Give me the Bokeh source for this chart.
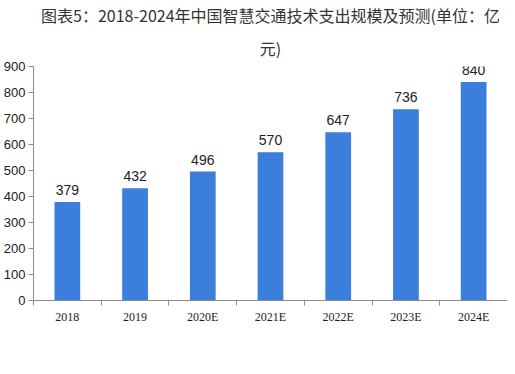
from bokeh.plotting import figure
from bokeh.models import (ColumnDataSource, Range1d, FixedTicker, LabelSet, Legend,
                          LegendItem, Title)
from bokeh.core.properties import value
from bokeh.embed import file_html
from bokeh.resources import INLINE

categories = ["2018", "2019", "2020E", "2021E", "2022E", "2023E", "2024E"]
values = [379, 432, 496, 570, 647, 736, 840]
y_ticks = [0, 100, 200, 300, 400, 500, 600, 700, 800, 900]
series_name = "中国智慧交通技术支出规模（亿元）"
title_line1 = "图表5：2018-2024年中国智慧交通技术支出规模及预测(单位：亿"
title_line2 = "元)"

xs = [i + 0.5 for i in range(len(categories))]
src = ColumnDataSource(dict(x=xs, top=values, lab=[str(v) for v in values]))

p = figure(width=507, height=358, frame_width=474, frame_height=234,
           output_backend="svg", toolbar_location=None,
           x_range=Range1d(0, len(categories)), y_range=Range1d(0, 900),
           min_border_left=33, min_border_right=0, min_border_top=0, min_border_bottom=0)
p.outline_line_color = None
p.xgrid.visible = False
p.ygrid.visible = False

r = p.vbar(x="x", top="top", width=0.38, source=src, fill_color="#3c7edb", line_color=None)

labels = LabelSet(x="x", y="top", text="lab", source=src, text_align="center",
                  text_baseline="bottom", y_offset=7, text_font=value("Liberation Sans"),
                  text_font_size="14px", text_color="#222222")
p.add_layout(labels)

# y axis
p.yaxis.ticker = FixedTicker(ticks=y_ticks)
p.yaxis.axis_line_color = "#8c8c8c"
p.yaxis.major_tick_line_color = "#8c8c8c"
p.yaxis.major_tick_out = 5
p.yaxis.major_tick_in = 0
p.yaxis.minor_tick_line_color = None
p.yaxis.major_label_standoff = 3
p.yaxis.major_label_text_font = "Liberation Sans"
p.yaxis.major_label_text_font_size = "13px"
p.yaxis.major_label_text_color = "#222222"

# x axis
p.xaxis.ticker = FixedTicker(ticks=xs, minor_ticks=list(range(len(categories) + 1)))
p.xaxis.major_label_overrides = {x: c for x, c in zip(xs, categories)}
p.xaxis.axis_line_color = "#8c8c8c"
p.xaxis.major_tick_line_color = None
p.xaxis.minor_tick_line_color = "#8c8c8c"
p.xaxis.minor_tick_out = 5
p.xaxis.minor_tick_in = 0
p.xaxis.major_label_standoff = 3
p.xaxis.major_label_text_font = "Liberation Serif"
p.xaxis.major_label_text_font_size = "12px"
p.xaxis.major_label_text_color = "#222222"

legend = Legend(items=[LegendItem(label=series_name, renderers=[r])],
                location="top_center", orientation="horizontal",
                glyph_width=8, glyph_height=8, label_text_font="Noto Sans CJK SC",
                label_text_font_size="13px", label_text_color="#222222",
                label_height=14, border_line_color=None, background_fill_alpha=0,
                padding=2, margin=0, spacing=0, label_standoff=5)
p.add_layout(legend, "below")

p.add_layout(Title(text=title_line2, align="center", text_font="Noto Sans CJK SC",
                   text_font_size="16px", text_font_style="normal", text_color="#333333",
                   standoff=14), "above")
p.add_layout(Title(text=title_line1, align="center", text_font="Noto Sans CJK SC",
                   text_font_size="16px", text_font_style="normal", text_color="#333333",
                   standoff=0), "above")

open("out.html", "w").write(file_html(p, INLINE))
